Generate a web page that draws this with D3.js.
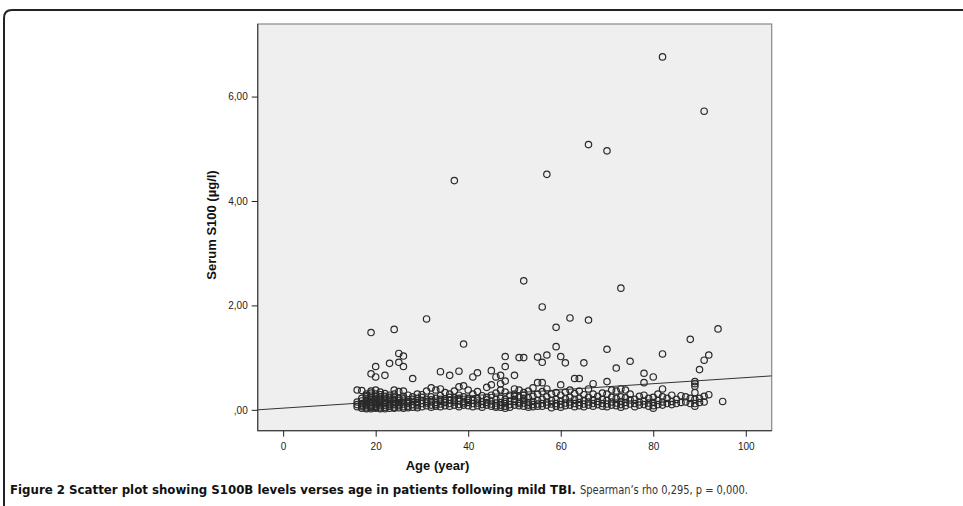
<!DOCTYPE html>
<html>
<head>
<meta charset="utf-8">
<script src="https://cdn.jsdelivr.net/npm/d3@7"></script>
<style>
  body { margin: 0; background: #fff; }
  svg { display: block; }
  .tick text { font-family: "Liberation Sans", Arial, sans-serif; font-size: 10px; fill: #222; }
  .tick line { stroke: #222; }
</style>
</head>
<body>
<div id="chart"></div>
<script>
// S100B values, grouped by patient age: [age, [values...]]
const youngPatients = [
  [16, [0.38, 0.15, 0.10, 0.06]],
  [17, [0.37, 0.22, 0.12, 0.06, 0.17, 0.09, 0.03]],
  [18, [0.30, 0.25, 0.18, 0.12, 0.08, 0.04, 0.15, 0.21, 0.02, 0.10, 0.27]],
  [19, [0.36, 0.28, 0.20, 0.14, 0.09, 0.05, 0.02, 0.11, 0.17, 0.24, 1.48, 0.69, 0.07, 0.32]],
  [20, [0.38, 0.30, 0.22, 0.16, 0.12, 0.07, 0.03, 0.10, 0.19, 0.26, 0.83, 0.63, 0.05, 0.14]],
  [21, [0.34, 0.25, 0.18, 0.13, 0.08, 0.04, 0.11, 0.20, 0.29, 0.02, 0.15]],
  [22, [0.31, 0.22, 0.15, 0.09, 0.05, 0.12, 0.26, 0.66, 0.02, 0.18]],
  [23, [0.28, 0.20, 0.13, 0.07, 0.03, 0.10, 0.17, 0.89, 0.24]],
  [24, [0.30, 0.24, 0.16, 0.10, 0.05, 0.13, 0.20, 1.54, 0.38, 0.03]],
  [25, [0.35, 0.22, 0.14, 0.08, 0.04, 0.18, 1.08, 0.91, 0.11]],
  [26, [0.36, 0.26, 0.17, 0.11, 0.06, 0.21, 1.03, 0.83, 0.03]],
  [27, [0.28, 0.19, 0.12, 0.07, 0.15, 0.04]],
  [28, [0.25, 0.16, 0.10, 0.05, 0.20, 0.60]],
  [29, [0.22, 0.14, 0.08, 0.11, 0.30, 0.04]],
  [30, [0.29, 0.18, 0.12, 0.06, 0.24]],
  [31, [0.36, 0.20, 0.13, 0.08, 0.16, 1.74]],
  [32, [0.42, 0.25, 0.15, 0.09, 0.05, 0.19]],
  [33, [0.38, 0.22, 0.14, 0.10, 0.07]],
  [34, [0.40, 0.27, 0.16, 0.11, 0.06, 0.73, 0.20]],
  [35, [0.33, 0.21, 0.14, 0.08, 0.17]],
  [36, [0.30, 0.19, 0.12, 0.07, 0.66, 0.24]],
  [37, [0.36, 0.23, 0.15, 0.09, 4.39, 0.18]],
  [38, [0.44, 0.28, 0.17, 0.10, 0.74, 0.06, 0.22]],
  [39, [0.46, 0.25, 0.16, 0.09, 1.26, 0.13]]
];
const middlePatients = [
  [40, [0.38, 0.22, 0.14, 0.08, 0.18]],
  [41, [0.30, 0.19, 0.12, 0.06, 0.63]],
  [42, [0.35, 0.21, 0.13, 0.08, 0.71, 0.17]],
  [43, [0.27, 0.16, 0.10, 0.05]],
  [44, [0.43, 0.24, 0.14, 0.09, 0.19]],
  [45, [0.48, 0.28, 0.17, 0.11, 0.75, 0.07]],
  [46, [0.32, 0.20, 0.13, 0.08, 0.63, 0.05]],
  [47, [0.66, 0.38, 0.22, 0.14, 0.09, 0.50, 0.05]],
  [48, [1.02, 0.83, 0.55, 0.34, 0.20, 0.12, 0.07, 0.03, 0.16]],
  [49, [0.28, 0.17, 0.10, 0.05]],
  [50, [0.66, 0.40, 0.26, 0.16, 0.09, 0.30, 0.20]],
  [51, [1.00, 0.38, 0.24, 0.15, 0.08, 0.12]],
  [52, [2.47, 1.00, 0.33, 0.22, 0.13, 0.07, 0.18, 0.28]],
  [53, [0.36, 0.23, 0.14, 0.09, 0.05]],
  [54, [0.42, 0.26, 0.16, 0.10, 0.06]],
  [55, [1.01, 0.52, 0.30, 0.18, 0.11, 0.07]],
  [56, [1.97, 0.91, 0.52, 0.35, 0.20, 0.12, 0.07]],
  [57, [4.51, 1.05, 0.40, 0.25, 0.15, 0.09]],
  [58, [0.30, 0.18, 0.11, 0.04]],
  [59, [1.58, 1.21, 0.33, 0.20, 0.12, 0.07]],
  [60, [1.02, 0.48, 0.28, 0.17, 0.10, 0.05]],
  [61, [0.90, 0.34, 0.21, 0.13, 0.08]],
  [62, [1.76, 0.38, 0.24, 0.15, 0.09]],
  [63, [0.60, 0.31, 0.20, 0.12, 0.06]],
  [64, [0.60, 0.36, 0.22, 0.14, 0.08]],
  [65, [0.90, 0.29, 0.18, 0.11, 0.06]],
  [66, [5.08, 1.72, 0.40, 0.24, 0.15, 0.09]],
  [67, [0.50, 0.30, 0.19, 0.12, 0.07]],
  [68, [0.26, 0.16, 0.10]],
  [69, [0.32, 0.20, 0.12, 0.07]]
];
const olderPatients = [
  [70, [4.96, 1.16, 0.54, 0.30, 0.18, 0.11, 0.06]],
  [71, [0.38, 0.24, 0.15, 0.09]],
  [72, [0.80, 0.36, 0.22, 0.13, 0.08]],
  [73, [2.33, 0.40, 0.25, 0.16, 0.10, 0.05]],
  [74, [0.38, 0.23, 0.14, 0.08]],
  [75, [0.93, 0.30, 0.19, 0.11]],
  [76, [0.20, 0.12, 0.06]],
  [77, [0.26, 0.15, 0.09]],
  [78, [0.70, 0.52, 0.28, 0.17, 0.10]],
  [79, [0.22, 0.13, 0.07]],
  [80, [0.63, 0.24, 0.14, 0.08, 0.03]],
  [81, [0.30, 0.18, 0.10]],
  [82, [6.76, 1.07, 0.40, 0.25, 0.15, 0.09]],
  [83, [0.22, 0.12]],
  [84, [0.28, 0.16, 0.10]],
  [85, [0.20, 0.12]],
  [86, [0.27, 0.14]],
  [87, [0.25, 0.15]],
  [88, [1.35, 0.22, 0.12]],
  [89, [0.54, 0.50, 0.45, 0.33, 0.20, 0.12, 0.07]],
  [90, [0.77, 0.22, 0.14]],
  [91, [5.72, 0.95, 0.26, 0.15]],
  [92, [1.05, 0.29]],
  [94, [1.55]],
  [95, [0.16]]
];

// fit line end points (age, S100) as drawn at the plot edges
const fitLine = [[-5.5, 0.0], [105.6, 0.65]];

const xTicks = [0, 20, 40, 60, 80, 100];
const yTicks = [0, 2, 4, 6];
const xDomain = [-5.5, 105.6];
const yDomain = [-0.4, 7.39];

const captionBold = "Figure 2 Scatter plot showing S100B levels verses age in patients following mild TBI.";
const captionRest = "Spearman\u2019s rho 0,295, p = 0,000.";

const W = 963, H = 506;
const plot = { left: 257.7, top: 24, width: 514, height: 406.7 };

const svg = d3.select("#chart").append("svg")
  .attr("width", W)
  .attr("height", H);

// outer figure frame (top and left edges with rounded corner)
svg.append("path")
  .attr("d", "M4,506 L4,18 Q4,10 12,10 L963,10")
  .attr("fill", "none")
  .attr("stroke", "#222")
  .attr("stroke-width", 2);

const g = svg.append("g")
  .attr("transform", `translate(${plot.left},${plot.top})`);

const x = d3.scaleLinear().domain(xDomain).range([0, plot.width]);
const y = d3.scaleLinear().domain(yDomain).range([plot.height, 0]);

// plot background
g.append("rect")
  .attr("width", plot.width)
  .attr("height", plot.height)
  .attr("fill", "#efefef")
  .attr("stroke", "#888")
  .attr("stroke-width", 1.2);

// darker left and bottom edges
g.append("path")
  .attr("d", `M0,0 L0,${plot.height} L${plot.width},${plot.height}`)
  .attr("fill", "none")
  .attr("stroke", "#444")
  .attr("stroke-width", 1.2);

const yFmt = d => d === 0 ? ",00" : d3.format(".2f")(d).replace(".", ",");

g.append("g")
  .call(d3.axisLeft(y).tickValues(yTicks).tickFormat(yFmt).tickSize(6).tickPadding(4))
  .call(a => a.select(".domain").remove());

g.append("g")
  .attr("transform", `translate(0,${plot.height})`)
  .call(d3.axisBottom(x).tickValues(xTicks).tickSize(6).tickPadding(6))
  .call(a => a.select(".domain").remove());

// axis titles
g.append("text")
  .attr("x", x(20.4) + 60)
  .attr("y", plot.height + 39)
  .attr("text-anchor", "middle")
  .attr("font-family", "Liberation Sans, Arial, sans-serif")
  .attr("font-weight", "bold")
  .attr("font-size", 13)
  .attr("fill", "#111")
  .text("Age (year)");

g.append("text")
  .attr("transform", `translate(${216 - plot.left},${225 - plot.top}) rotate(-90)`)
  .attr("text-anchor", "middle")
  .attr("font-family", "Liberation Sans, Arial, sans-serif")
  .attr("font-weight", "bold")
  .attr("font-size", 13)
  .attr("fill", "#111")
  .text("Serum S100 (\u00b5g/l)");

// fit line
g.append("path")
  .datum(fitLine)
  .attr("fill", "none")
  .attr("stroke", "#333")
  .attr("stroke-width", 1)
  .attr("d", d3.line().x(d => x(d[0])).y(d => y(d[1])));

// points
const points = [];
[youngPatients, middlePatients, olderPatients].forEach(group => {
  group.forEach(([age, vals]) => vals.forEach(v => points.push({ age, v })));
});

g.selectAll("circle.pt")
  .data(points)
  .enter()
  .append("circle")
  .attr("class", "pt")
  .attr("cx", d => x(d.age))
  .attr("cy", d => y(d.v))
  .attr("r", 3.2)
  .attr("fill", "none")
  .attr("stroke", "#2a2a2a")
  .attr("stroke-width", 1.2);

// caption
const cap = svg.append("text")
  .attr("x", 10)
  .attr("y", 494)
  .attr("font-family", "DejaVu Sans Condensed, Open Sans, sans-serif")
  .attr("font-size", 12.5)
  .attr("fill", "#111");
cap.append("tspan")
  .attr("font-weight", "bold")
  .attr("textLength", 566)
  .attr("lengthAdjust", "spacingAndGlyphs")
  .text(captionBold);
cap.append("tspan")
  .attr("x", 580)
  .attr("fill", "#333")
  .attr("textLength", 168)
  .attr("lengthAdjust", "spacingAndGlyphs")
  .text(captionRest);
</script>
</body>
</html>
